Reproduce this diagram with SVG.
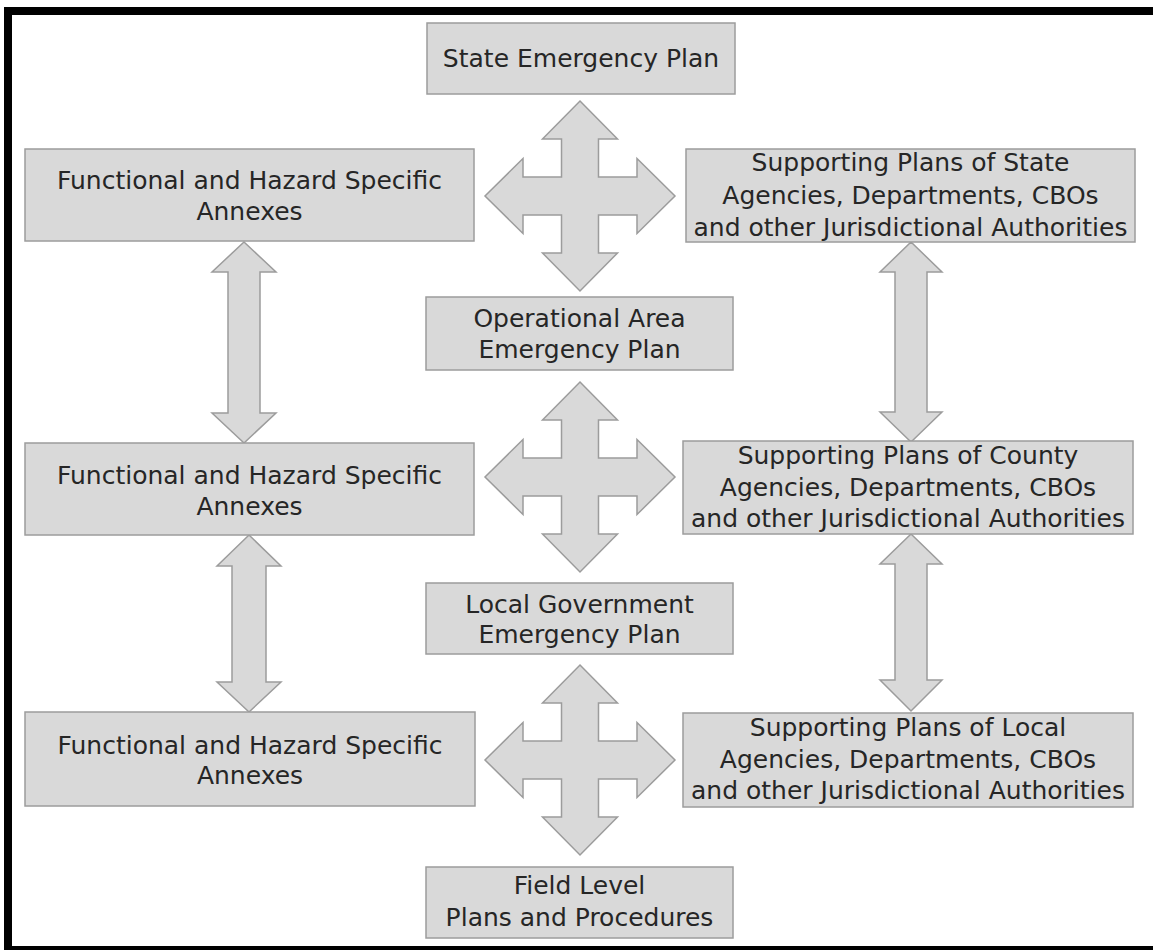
<svg xmlns="http://www.w3.org/2000/svg" xmlns:xlink="http://www.w3.org/1999/xlink" width="1153" height="950" viewBox="0 0 1153 950">
<style>
.box{fill:#d9d9d9;stroke:#9c9c9c;stroke-width:1.5}
.arr{fill:#d9d9d9;stroke:#9c9c9c;stroke-width:1.5;stroke-linejoin:miter}
text{font-family:"DejaVu Sans",sans-serif;font-size:25px;fill:#262626;text-anchor:middle}
</style>
<defs>
<path id="cross" class="arr" d="M0,-95 L37.5,-57 L18.5,-57 L18.5,-19 L57,-19 L57,-37.5 L95,0 L57,37.5 L57,19 L18.5,19 L18.5,57 L37.5,57 L0,95 L-37.5,57 L-18.5,57 L-18.5,19 L-57,19 L-57,37.5 L-95,0 L-57,-37.5 L-57,-19 L-18.5,-19 L-18.5,-57 L-37.5,-57 Z"/>
</defs>
<rect x="0" y="0" width="1153" height="950" fill="#ffffff"/>
<rect x="8" y="11" width="1160" height="939" fill="none" stroke="#000" stroke-width="8"/>

<g id="connectors">
<use xlink:href="#cross" href="#cross" x="580" y="196"/>
<use xlink:href="#cross" href="#cross" x="580" y="477"/>
<use xlink:href="#cross" href="#cross" x="580" y="760"/>
<path class="arr" d="M244,242 L276,272 L260,272 L260,413 L276,413 L244,443 L212,413 L228,413 L228,272 L212,272 Z"/>
<path class="arr" d="M249,535 L281,566 L266,566 L266,682 L281,682 L249,712 L217,682 L232,682 L232,566 L217,566 Z"/>
<path class="arr" d="M911,242 L942,272 L927,272 L927,412 L942,412 L911,442 L880,412 L895,412 L895,272 L880,272 Z"/>
<path class="arr" d="M911,534 L942,564 L927,564 L927,680 L942,680 L911,711 L880,680 L895,680 L895,564 L880,564 Z"/>
</g>

<g id="state">
<rect class="box" x="427" y="23" width="308" height="71"/>
<text x="581" y="67">State Emergency Plan</text>
</g>
<g id="func1">
<rect class="box" x="25" y="149" width="449" height="92"/>
<text x="249.5" y="189">Functional and Hazard Specific</text>
<text x="249.5" y="220">Annexes</text>
</g>
<g id="supState">
<rect class="box" x="686" y="149" width="449" height="93"/>
<text x="910.5" y="171">Supporting Plans of State</text>
<text x="910.5" y="204">Agencies, Departments, CBOs</text>
<text x="910.5" y="236">and other Jurisdictional Authorities</text>
</g>
<g id="opArea">
<rect class="box" x="426" y="297" width="307" height="73"/>
<text x="579.5" y="327">Operational Area</text>
<text x="579.5" y="358">Emergency Plan</text>
</g>
<g id="func2">
<rect class="box" x="25" y="443" width="449" height="92"/>
<text x="249.5" y="484">Functional and Hazard Specific</text>
<text x="249.5" y="515">Annexes</text>
</g>
<g id="supCounty">
<rect class="box" x="683" y="441" width="450" height="93"/>
<text x="908" y="464">Supporting Plans of County</text>
<text x="908" y="496">Agencies, Departments, CBOs</text>
<text x="908" y="527">and other Jurisdictional Authorities</text>
</g>
<g id="localGov">
<rect class="box" x="426" y="583" width="307" height="71"/>
<text x="579.5" y="613">Local Government</text>
<text x="579.5" y="643">Emergency Plan</text>
</g>
<g id="func3">
<rect class="box" x="25" y="712" width="450" height="94"/>
<text x="250" y="754">Functional and Hazard Specific</text>
<text x="250" y="784">Annexes</text>
</g>
<g id="supLocal">
<rect class="box" x="683" y="713" width="450" height="94"/>
<text x="908" y="736">Supporting Plans of Local</text>
<text x="908" y="768">Agencies, Departments, CBOs</text>
<text x="908" y="799">and other Jurisdictional Authorities</text>
</g>
<g id="field">
<rect class="box" x="426" y="867" width="307" height="71"/>
<text x="579.5" y="894">Field Level</text>
<text x="579.5" y="926">Plans and Procedures</text>
</g>
</svg>
